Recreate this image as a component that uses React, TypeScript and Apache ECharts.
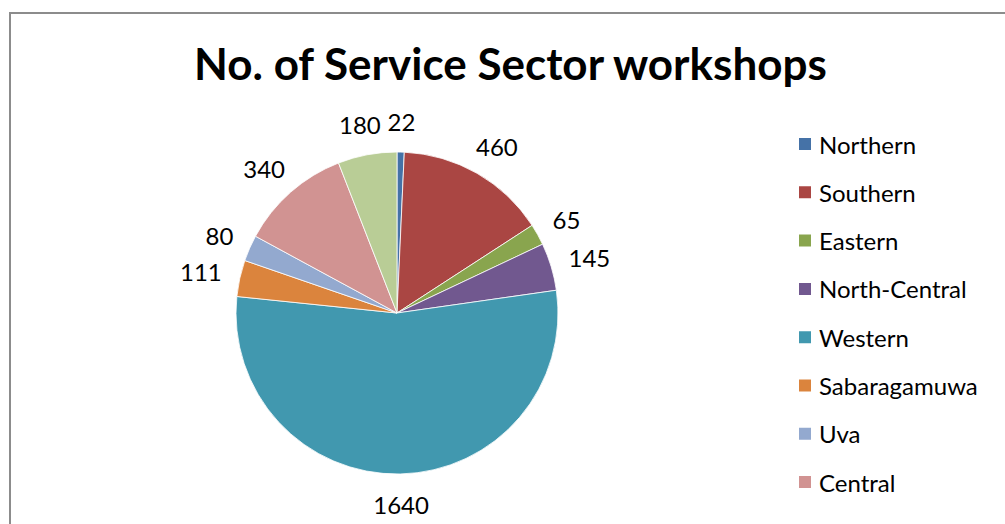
import React, { useEffect, useRef } from "react";
import * as echarts from "echarts";

const titleText = "No. of Service Sector workshops";
const categories = [
  "Northern",
  "Southern",
  "Eastern",
  "North-Central",
  "Western",
  "Sabaragamuwa",
  "Uva",
  "Central",
  "North-Western",
];
const values = [22, 460, 65, 145, 1640, 111, 80, 340, 180];
// only the first eight legend entries are visible in the reference
const legendVisible = categories.slice(0, 8);
const colors = [
  "#4572A7",
  "#AA4643",
  "#89A54E",
  "#71588F",
  "#4198AF",
  "#DB843D",
  "#93A9CF",
  "#D19392",
  "#B9CD96",
];

const CX = 397;
const CY = 313;
const R = 161;
const GAP = 19;

export default function App() {
  const ref = useRef<HTMLDivElement>(null);
  useEffect(() => {
    if (!ref.current) return;
    const chart = echarts.init(ref.current, null, { renderer: "svg" });
    const total = values.reduce((a, b) => a + b, 0);
    const mids: number[] = [];
    let acc = 0;
    values.forEach((v) => {
      mids.push(((acc + v / 2) / total) * Math.PI * 2);
      acc += v;
    });
    chart.setOption({
      animation: false,
      backgroundColor: "#fff",
      color: colors,
      title: {
        text: titleText,
        left: 194,
        top: 41,
        padding: 0,
        textStyle: {
          fontFamily: "Lato",
          fontWeight: "bold",
          fontSize: 44,
          color: "#000",
        },
      },
      graphic: [
        {
          type: "rect",
          shape: { x: 10, y: 13, width: 1100, height: 600 },
          style: { fill: "none", stroke: "#8c8c8c", lineWidth: 2 },
          silent: true,
        },
      ],
      legend: {
        orient: "vertical",
        left: 797,
        top: 132,
        padding: 0,
        itemWidth: 14,
        itemHeight: 14,
        itemGap: 24.3,
        icon: "rect",
        data: legendVisible,
        textStyle: {
          fontFamily: "Lato",
          fontSize: 24,
          lineHeight: 24,
          color: "#000",
          padding: [0, 0, 0, 2],
        },
      },
      series: [
        {
          type: "pie",
          center: [CX, CY],
          radius: R,
          startAngle: 90,
          clockwise: true,
          avoidLabelOverlap: false,
          itemStyle: { borderColor: "#fff", borderWidth: 0.8 },
          label: {
            show: true,
            position: "outside",
            formatter: "{c}",
            fontFamily: "Lato",
            fontSize: 24,
            color: "#000",
          },
          labelLine: { show: false },
          emphasis: { disabled: true },
          labelLayout: (params: any) => {
            const a = mids[params.dataIndex];
            const ux = Math.sin(a);
            const uy = -Math.cos(a);
            const w = params.labelRect.width;
            const h = params.labelRect.height;
            return {
              x: CX + ux * (R + GAP) + (ux * w) / 2,
              y: CY + uy * (R + GAP) + (uy * h) / 2,
              align: "center",
              verticalAlign: "middle",
            };
          },
          data: categories.map((name, i) => ({ name, value: values[i] })),
        },
      ],
    });
    return () => chart.dispose();
  }, []);
  return (
    <div
      ref={ref}
      style={{ position: "absolute", left: 0, top: 0, width: 1005, height: 524 }}
    />
  );
}
